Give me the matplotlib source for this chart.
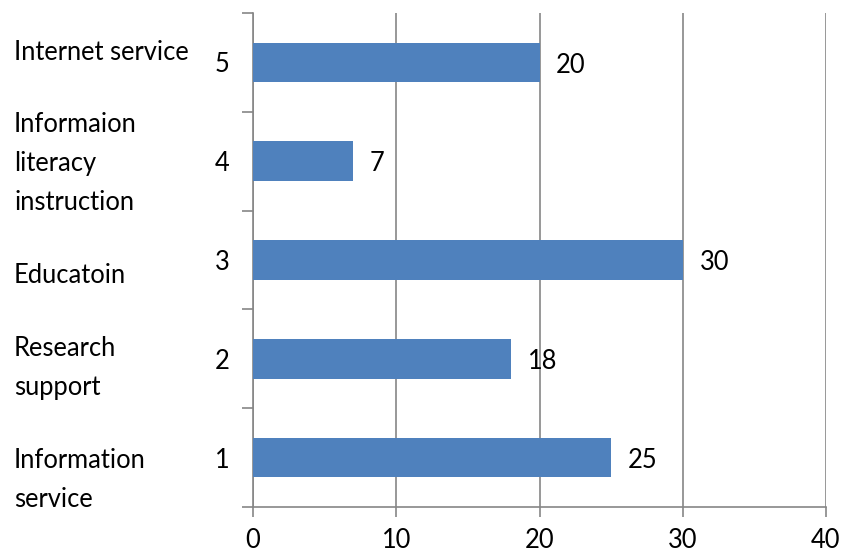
import matplotlib
matplotlib.use("Agg")
import matplotlib.pyplot as plt
import numpy as np

# ── Data ──────────────────────────────────────────────────────────────────────
positions  = [1, 2, 3, 4, 5]
values     = [25, 18, 30, 7, 20]
categories = ["Information\nservice", "Research\nsupport", "Educatoin",
              "Informaion\nliteracy\ninstruction", "Internet service"]
# vertical offset of each category name relative to its bar (as drawn in source)
cat_offset = [-0.23, -0.09, -0.16, -0.02, 0.10]
x_ticks    = [0, 10, 20, 30, 40]

BAR_COLOR  = "#4F81BD"
GRID_COLOR = "#868686"
FONT       = "Lato"
FS         = 18.4

plt.rcParams['font.family'] = [FONT, 'DejaVu Sans']

fig = plt.figure(figsize=(8.42, 5.56), dpi=100)
ax = fig.add_axes([253 / 842, 1 - 507 / 556, 573 / 842, 494 / 556])

ax.barh(positions, values, height=0.4, color=BAR_COLOR, zorder=3)

ax.set_xlim(0, 40)
ax.set_ylim(0.5, 5.5)

# x axis
ax.set_xticks(x_ticks)
ax.set_xticklabels([str(t) for t in x_ticks], fontsize=FS)
ax.tick_params(axis='x', length=7, width=1.2, color=GRID_COLOR, pad=8)
ax.xaxis.grid(True, color=GRID_COLOR, linewidth=1.2, zorder=0)

# y axis: ticks at category boundaries, labels at centres
ax.set_yticks(np.arange(0.5, 5.6, 1.0))
ax.set_yticklabels([])
ax.set_yticks(positions, minor=True)
ax.set_yticklabels([str(p) for p in positions], minor=True, fontsize=FS)
ax.tick_params(axis='y', which='major', length=8, width=1.2, color=GRID_COLOR)
ax.tick_params(axis='y', which='minor', length=0, pad=17)

for side in ("top", "right"):
    ax.spines[side].set_visible(False)
for side in ("left", "bottom"):
    ax.spines[side].set_color(GRID_COLOR)
    ax.spines[side].set_linewidth(1.2)

# category names on the far left
trans = matplotlib.transforms.blended_transform_factory(ax.transAxes, ax.transData)
for p, name, off in zip(positions, categories, cat_offset):
    ax.text(-239 / 573, p + off, name, transform=trans, ha="left", va="center",
            fontsize=FS, linespacing=1.7)

# value labels
for p, v in zip(positions, values):
    ax.annotate(str(v), (v, p), xytext=(12, -2), textcoords="offset points",
                ha="left", va="center", fontsize=FS, zorder=4)

fig.savefig("out.png", dpi=100)
